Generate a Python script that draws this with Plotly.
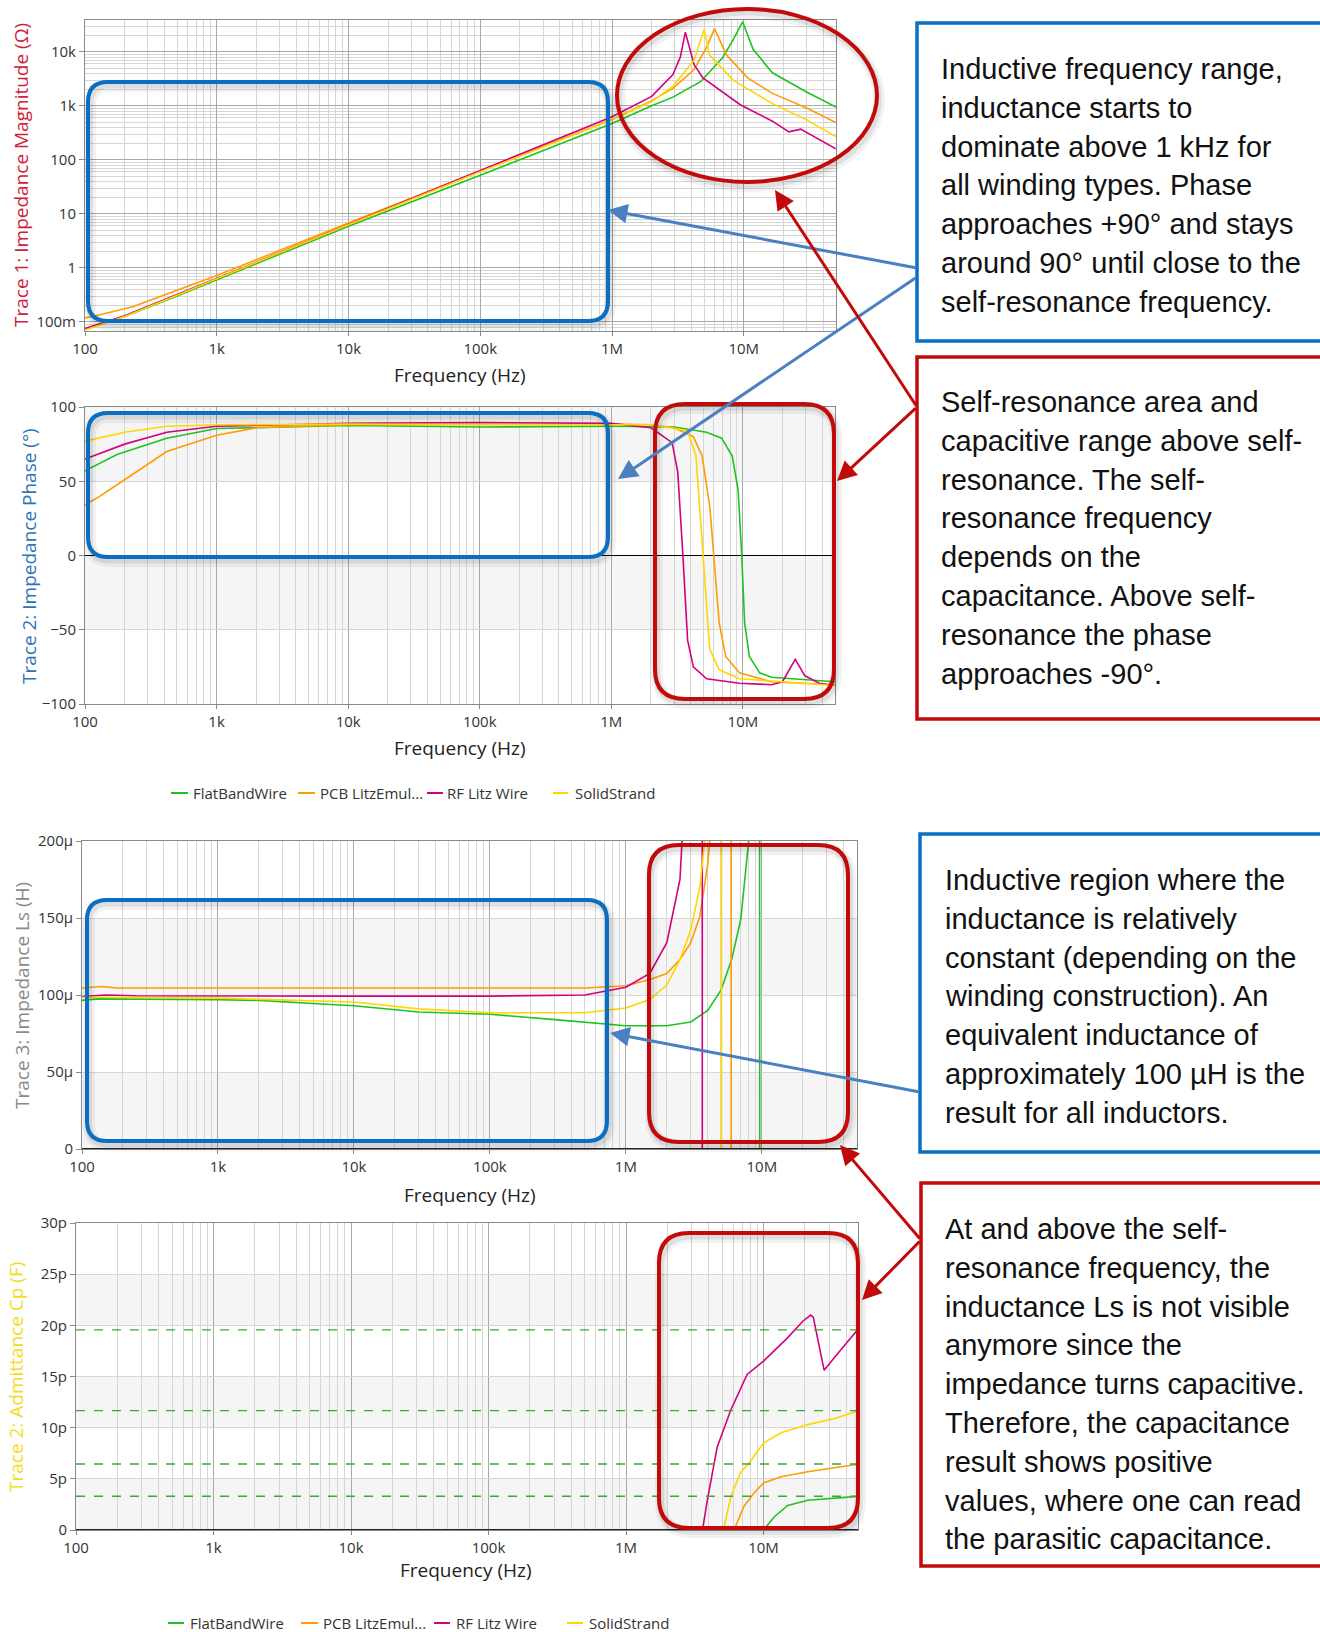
import plotly.graph_objects as go

W, H = 1320, 1632

# ---------------- series styling ----------------
NAMES = ["FlatBandWire", "PCB LitzEmul...", "RF Litz Wire", "SolidStrand"]
GREEN, ORANGE, MAGENTA, YELLOW = "#1ec41e", "#ff9c00", "#d4007f", "#ffd600"

# ---------------- Trace 1: impedance magnitude (Ohm) ----------------
MAG_F_FLAT = [100, 200, 500, 1e3, 1e4, 1e5, 1e6, 2e6, 2.9e6, 4.7e6, 6.9e6, 8.3e6, 9.8e6, 11.8e6, 16.5e6, 30e6, 50e6]
MAG_Z_FLAT = [0.075, 0.125, 0.30, 0.60, 5.9, 52, 470, 1000, 1450, 2800, 7800, 16600, 36000, 11000, 4100, 1800, 950]

MAG_F_PCB = [100, 130, 230, 420, 1e3, 1e4, 1e5, 1e6, 2e6, 2.9e6, 4.2e6, 5.2e6, 6.0e6, 7.4e6, 10.7e6, 16.5e6, 30e6, 50e6]
MAG_Z_PCB = [0.118, 0.135, 0.19, 0.33, 0.72, 6.8, 63, 560, 1250, 2100, 4700, 12000, 27000, 8700, 3300, 1700, 910, 490]

MAG_F_RF = [100, 200, 500, 1e3, 1e4, 1e5, 1e6, 2e6, 2.9e6, 3.3e6, 3.6e6, 4.2e6, 4.9e6, 9.4e6, 16.5e6, 22e6, 27e6, 50e6]
MAG_Z_RF = [0.075, 0.13, 0.32, 0.64, 6.4, 62, 630, 1500, 3800, 8000, 23000, 5800, 3300, 1050, 520, 330, 370, 160]

MAG_F_SOLID = [100, 200, 500, 1e3, 1e4, 1e5, 1e6, 2e6, 2.9e6, 4.2e6, 5.0e6, 5.5e6, 8.3e6, 16.5e6, 30e6, 50e6]
MAG_Z_SOLID = [0.07, 0.125, 0.31, 0.63, 6.3, 60, 550, 1200, 2300, 7000, 26000, 8700, 3000, 1100, 550, 270]

# ---------------- Trace 2: impedance phase (deg) ----------------
PH_F_FLAT = [100, 175, 418, 1e3, 1e4, 1e5, 1e6, 3e6, 5.3e6, 6.9e6, 8.3e6, 9.2e6, 9.8e6, 10.3e6, 11.2e6, 13.4e6, 16.5e6, 50e6]
PH_P_FLAT = [57, 68, 79, 85.5, 87.5, 86.5, 87, 86.5, 83, 79, 67, 44, 0, -45, -68, -79, -82, -85]

PH_F_PCB = [100, 130, 200, 418, 1e3, 2e3, 1e4, 1e5, 1e6, 2e6, 3e6, 4.2e6, 4.9e6, 5.6e6, 6.0e6, 6.6e6, 7.4e6, 9.4e6, 16.5e6, 50e6]
PH_P_PCB = [34, 40, 51, 70, 81, 86, 88, 88.5, 88.5, 88, 86, 80, 67, 33, 0, -45, -68, -79, -85, -87]

PH_F_RF = [100, 200, 418, 1e3, 1e4, 1e5, 1e6, 2e6, 2.9e6, 3.2e6, 3.5e6, 3.8e6, 4.2e6, 5.3e6, 9.4e6, 16.5e6, 20e6, 25e6, 29.6e6, 38e6, 50e6]
PH_P_RF = [65, 75, 83, 87, 89, 89.5, 89, 86, 76, 56, 0, -57, -75, -83, -86, -87, -85, -70, -81, -86, -87.5]

PH_F_SOLID = [100, 200, 418, 1e3, 1e4, 1e5, 1e6, 2e6, 3.8e6, 4.4e6, 4.8e6, 5.0e6, 5.3e6, 5.6e6, 6.6e6, 9.4e6, 50e6]
PH_P_SOLID = [77, 83, 87, 88, 88.5, 88, 88, 88, 84, 67, 22, 0, -34, -63, -77, -83, -87.5]

# ---------------- Trace 3: series inductance Ls (uH) ----------------
LS_F_FLAT = [100, 130, 1e3, 2e3, 5e3, 1e4, 3e4, 1e5, 3e5, 1e6, 2e6, 3e6, 4e6, 5e6, 6e6, 7e6, 8e6, 9.5e6, 9.8e6, 15e6, 50e6]
LS_L_FLAT = [96.5, 97.5, 97, 96.5, 94.5, 93, 89, 87.5, 84, 80, 80, 82.5, 90, 103, 123, 149, 200, 1500, -1500, -100, -5]

LS_F_PCB = [100, 140, 180, 1e3, 1e4, 1e5, 5e5, 1e6, 1.5e6, 2e6, 2.5e6, 3e6, 3.5e6, 4e6, 4.3e6, 5.9e6, 6.0e6, 15e6, 50e6]
LS_L_PCB = [104.5, 105.5, 104.5, 104.5, 104.5, 104.5, 104.5, 106, 110, 114, 123, 134, 151, 185, 215, 3000, -3000, -50, -5]

LS_F_RF = [100, 150, 250, 1e3, 1e4, 1e5, 5e5, 1e6, 1.5e6, 2e6, 2.5e6, 2.7e6, 3.6e6, 3.7e6, 10e6, 50e6]
LS_L_RF = [99, 100, 99.5, 99.3, 99.3, 99.3, 100, 105, 114, 134, 175, 230, 3000, -3000, -50, -5]

LS_F_SOLID = [100, 1e3, 1e4, 3e4, 1e5, 5e5, 1e6, 1.5e6, 2e6, 2.5e6, 3e6, 3.5e6, 3.8e6, 5.0e6, 5.1e6, 15e6, 50e6]
LS_L_SOLID = [98.5, 98, 95.5, 91, 88.5, 88.5, 91.5, 97, 106.5, 123, 142, 170, 200, 3000, -3000, -50, -5]

# ---------------- Trace 2 (admittance): parallel capacitance Cp (pF) ----------------
CP_F_FLAT = [9.5e6, 10e6, 12e6, 15e6, 21e6, 33e6, 47e6, 50e6]
CP_C_FLAT = [-1, 0, 1.3, 2.4, 2.9, 3.1, 3.3, 3.3]

CP_F_PCB = [5.8e6, 6.1e6, 7.2e6, 8.5e6, 10e6, 13.4e6, 21e6, 47e6, 50e6]
CP_C_PCB = [-2, 0, 2.3, 3.6, 4.6, 5.2, 5.7, 6.4, 6.45]

CP_F_RF = [3.4e6, 3.6e6, 3.9e6, 4.6e6, 5.77e6, 7.6e6, 10e6, 15e6, 19.3e6, 22e6, 23e6, 27.6e6, 33e6, 47e6, 50e6]
CP_C_RF = [-5, 0, 2.9, 8.1, 11.7, 15.2, 16.5, 18.8, 20.4, 21.0, 20.8, 15.6, 16.9, 19.4, 19.8]

CP_F_SOLID = [4.8e6, 5.1e6, 5.8e6, 6.8e6, 8.1e6, 10e6, 13.4e6, 21e6, 33e6, 47e6, 50e6]
CP_C_SOLID = [-3, 0, 3.3, 5.6, 6.8, 8.5, 9.5, 10.3, 10.9, 11.6, 11.7]

# cursor read-outs of the parasitic capacitance (pF)
CP_MARKERS = [19.55, 11.66, 6.45, 3.3]

# axis tick labels
FREQ_TICKS = [100, 1e3, 1e4, 1e5, 1e6, 1e7]
FREQ_LABELS = ["100", "1k", "10k", "100k", "1M", "10M"]
MAG_TICKS = [0.1, 1, 10, 100, 1000, 10000]
MAG_LABELS = ["100m", "1", "10", "100", "1k", "10k"]
PH_TICKS = [-100, -50, 0, 50, 100]
LS_TICKS = [0, 50, 100, 150, 200]
LS_LABELS = ["0", "50µ", "100µ", "150µ", "200µ"]
CP_TICKS = [0, 5, 10, 15, 20, 25, 30]
CP_LABELS = ["0", "5p", "10p", "15p", "20p", "25p", "30p"]


def px(x):
    return x / W


def py(y):
    return 1 - y / H


FONT = "Open Sans"
BOX_FONT = "Liberation Sans, Arial, sans-serif"
TICK_COLOR = "#333333"
MAJOR_GRID = "#a9a9a9"
MINOR_GRID = "#d6d6d6"
BAND = "#f5f5f5"

fig = go.Figure()

panels = [
    # (axis suffix, plot box in px (l, t, r, b))
    ("", (85, 20, 836, 331)),
    ("2", (85, 407, 835, 704)),
    ("3", (82, 841, 857, 1149)),
    ("4", (76, 1223, 858, 1530)),
]

series = [
    [(MAG_F_FLAT, MAG_Z_FLAT), (MAG_F_PCB, MAG_Z_PCB), (MAG_F_RF, MAG_Z_RF), (MAG_F_SOLID, MAG_Z_SOLID)],
    [(PH_F_FLAT, PH_P_FLAT), (PH_F_PCB, PH_P_PCB), (PH_F_RF, PH_P_RF), (PH_F_SOLID, PH_P_SOLID)],
    [(LS_F_FLAT, LS_L_FLAT), (LS_F_PCB, LS_L_PCB), (LS_F_RF, LS_L_RF), (LS_F_SOLID, LS_L_SOLID)],
    [(CP_F_FLAT, CP_C_FLAT), (CP_F_PCB, CP_C_PCB), (CP_F_RF, CP_C_RF), (CP_F_SOLID, CP_C_SOLID)],
]
colors = [GREEN, ORANGE, MAGENTA, YELLOW]

for (suf, _), group in zip(panels, series):
    for name, color, (f, v) in zip(NAMES, colors, group):
        fig.add_trace(go.Scatter(
            x=f, y=v, mode="lines", name=name, showlegend=False,
            line=dict(color=color, width=1.6),
            xaxis="x" + suf, yaxis="y" + suf, cliponaxis=True,
            hoverinfo="skip",
        ))

# minor grid positions (2..9 within each decade)
minor_x = [k * 10 ** n for n in range(2, 8) for k in range(2, 10)]
minor_y = [k * 10 ** n for n in range(-2, 5) for k in range(2, 10)]

x_ranges = [[2, 7.70], [2, 7.70], [2, 7.70], [2, 7.687]]
layout = {}
for i, ((suf, (l, t, r, b)), xr) in enumerate(zip(panels, x_ranges)):
    ax = dict(
        domain=[px(l), px(r)], type="log", range=xr,
        tickvals=FREQ_TICKS, ticktext=FREQ_LABELS,
        tickfont=dict(family=FONT, size=15, color=TICK_COLOR),
        showgrid=True, gridcolor=MAJOR_GRID, gridwidth=1,
        minor=dict(tickvals=minor_x, showgrid=True, gridcolor=MINOR_GRID, ticks=""),
        ticks="outside", ticklen=4, tickcolor="#888888",
        showline=True, linecolor="#8a8a8a", linewidth=1, mirror=True,
        anchor="y" + suf, zeroline=False, automargin=False,
    )
    layout["xaxis" + suf] = ax

layout["yaxis"] = dict(
    domain=[py(331), py(20)], type="log", range=[-1.17, 4.59],
    tickvals=MAG_TICKS, ticktext=MAG_LABELS,
    minor=dict(tickvals=minor_y, showgrid=True, gridcolor=MINOR_GRID, ticks=""),
)
layout["yaxis2"] = dict(
    domain=[py(704), py(407)], range=[-100, 100], tickvals=PH_TICKS,
    zeroline=True, zerolinecolor="#000000", zerolinewidth=1,
)
layout["yaxis3"] = dict(
    domain=[py(1149), py(841)], range=[0, 200], tickvals=LS_TICKS, ticktext=LS_LABELS,
)
layout["yaxis4"] = dict(
    domain=[py(1530), py(1223)], range=[0, 30], tickvals=CP_TICKS, ticktext=CP_LABELS,
)
for suf in ["", "2", "3", "4"]:
    ya = layout["yaxis" + suf]
    ya.update(
        anchor="x" + suf,
        tickfont=dict(family=FONT, size=15, color=TICK_COLOR),
        showgrid=True, gridcolor=MAJOR_GRID if suf == "" else MINOR_GRID, gridwidth=1,
        ticks="outside", ticklen=5, tickcolor="#888888",
        showline=True, linecolor="#8a8a8a", linewidth=1, mirror=True,
        automargin=False,
    )
    ya.setdefault("zeroline", False)

fig.update_layout(
    width=W, height=H, margin=dict(l=0, r=0, t=0, b=0, pad=0, autoexpand=False),
    paper_bgcolor="white", plot_bgcolor="white", showlegend=False,
    **layout,
)

shapes = []

# alternating background bands in the linear panels
def band(suf, y0, y1):
    shapes.append(dict(type="rect", xref="x%s domain" % suf, yref="y" + suf,
                       x0=0, x1=1, y0=y0, y1=y1, fillcolor=BAND, line_width=0, layer="below"))

band("2", 50, 100)
band("2", -50, 0)
band("3", 100, 150)
band("3", 0, 50)
band("4", 0, 5)
band("4", 10, 15)
band("4", 20, 25)

# dark base lines of the Ls and Cp panels
for suf in ["3", "4"]:
    shapes.append(dict(type="line", xref="x%s domain" % suf, yref="y" + suf,
                       x0=0, x1=1, y0=0, y1=0, line=dict(color="#222222", width=2), layer="above"))

# parasitic capacitance cursor lines
for c in CP_MARKERS:
    shapes.append(dict(type="line", xref="x4 domain", yref="y4", x0=0, x1=1, y0=c, y1=c,
                       line=dict(color="#3aa83a", width=1.3, dash="dash"), layer="above"))


def rrect_path(l, t, r, b, rad):
    return (f"M {px(l + rad)},{py(t)} L {px(r - rad)},{py(t)} "
            f"Q {px(r)},{py(t)} {px(r)},{py(t + rad)} L {px(r)},{py(b - rad)} "
            f"Q {px(r)},{py(b)} {px(r - rad)},{py(b)} L {px(l + rad)},{py(b)} "
            f"Q {px(l)},{py(b)} {px(l)},{py(b - rad)} L {px(l)},{py(t + rad)} "
            f"Q {px(l)},{py(t)} {px(l + rad)},{py(t)} Z")


def highlight(l, t, r, b, rad, color):
    for w, a, d in [(12, 0.05, 4), (7, 0.08, 3)]:
        shapes.append(dict(type="path", xref="paper", yref="paper",
                           path=rrect_path(l + d / 2, t + d, r + d / 2, b + d, rad),
                           line=dict(color="rgba(0,0,0,%s)" % a, width=w), layer="above"))
    shapes.append(dict(type="path", xref="paper", yref="paper", path=rrect_path(l, t, r, b, rad),
                       line=dict(color=color, width=4), layer="above"))


BLUE = "#0a6fc2"
RED = "#c20a0a"
highlight(88, 82, 608, 321, 20, BLUE)
highlight(88, 413, 608, 557, 20, BLUE)
highlight(655, 404, 834, 699, 30, RED)
highlight(87, 900, 607, 1141, 20, BLUE)
highlight(649, 845, 848, 1142, 30, RED)
highlight(659, 1233, 858, 1528, 30, RED)

# resonance ellipse
for w, a, d in [(12, 0.05, 4), (7, 0.08, 3)]:
    shapes.append(dict(type="circle", xref="paper", yref="paper",
                       x0=px(617 + d / 2), x1=px(877 + d / 2), y0=py(182 + d), y1=py(9 + d),
                       line=dict(color="rgba(0,0,0,%s)" % a, width=w), layer="above"))
shapes.append(dict(type="circle", xref="paper", yref="paper",
                   x0=px(617), x1=px(877), y0=py(182), y1=py(9),
                   line=dict(color=RED, width=4), layer="above"))

# text frames on the right
for (l, t, r, b), color in [((917, 23, 1330, 341), BLUE), ((917, 357, 1330, 719), RED),
                            ((920, 834, 1330, 1152), BLUE), ((921, 1183, 1330, 1566), RED)]:
    shapes.append(dict(type="rect", xref="paper", yref="paper", x0=px(l), x1=px(r), y0=py(b), y1=py(t),
                       line=dict(color=color, width=3.5), fillcolor="white", layer="above"))

# legend swatches
LEG_TOP = [(171, 188, 191), (298, 315, 318), (427, 443, 445), (553, 568, 573)]
LEG_BOT = [(168, 184, 188), (301, 318, 321), (434, 450, 454), (567, 583, 587)]
annotations = []
for yy, entries in [(793, LEG_TOP), (1623, LEG_BOT)]:
    for (x0, x1, xt), name, color in zip(entries, NAMES, colors):
        shapes.append(dict(type="line", xref="paper", yref="paper", x0=px(x0), x1=px(x1),
                           y0=py(yy), y1=py(yy), line=dict(color=color, width=2)))
        annotations.append(dict(x=px(xt), y=py(yy), xref="paper", yref="paper", text=name,
                                showarrow=False, xanchor="left", yanchor="middle",
                                font=dict(family=FONT, size=15, color="#333333")))

# axis titles
for text, x, y, color in [
    ("Trace 1: Impedance Magnitude (Ω)", 21, 175, "#d0203a"),
    ("Trace 2: Impedance Phase (°)", 29, 556, "#2f74b5"),
    ("Trace 3: Impedance Ls (H)", 22, 996, "#8a8a8a"),
    ("Trace 2: Admittance Cp (F)", 16, 1377, "#f7da1e"),
]:
    annotations.append(dict(x=px(x), y=py(y), xref="paper", yref="paper", text=text, textangle=-90,
                            showarrow=False, xanchor="center", yanchor="middle",
                            font=dict(family=FONT, size=19, color=color)))

for x, y in [(460, 375), (460, 748), (470, 1195), (466, 1570)]:
    annotations.append(dict(x=px(x), y=py(y), xref="paper", yref="paper", text="Frequency (Hz)",
                            showarrow=False, xanchor="center", yanchor="middle",
                            font=dict(family=FONT, size=19, color="#222222")))

# explanatory notes: (left px, centre of first line px, lines)
LINE_STEP = 38.8
NOTES = [
    (939, 69, ["Inductive frequency range,", "inductance starts to", "dominate above 1 kHz for",
               "all winding types. Phase", "approaches +90° and stays", "around 90° until close to the",
               "self-resonance frequency."]),
    (939, 402, ["Self-resonance area and", "capacitive range above self-", "resonance. The self-",
                "resonance frequency", "depends on the", "capacitance. Above self-",
                "resonance the phase", "approaches -90°."]),
    (943, 880, ["Inductive region where the", "inductance is relatively", "constant (depending on the",
                "winding construction). An", "equivalent inductance of", "approximately 100 µH is the",
                "result for all inductors."]),
    (943, 1229, ["At and above the self-", "resonance frequency, the", "inductance Ls is not visible",
                 "anymore since the", "impedance turns capacitive.", "Therefore, the capacitance",
                 "result shows positive", "values, where one can read", "the parasitic capacitance."]),
]
for x, y, lines in NOTES:
    for k, line in enumerate(lines):
        annotations.append(dict(x=px(x), y=py(y + k * LINE_STEP), xref="paper", yref="paper", text=line,
                                showarrow=False, xanchor="left", yanchor="middle", align="left",
                                font=dict(family=BOX_FONT, size=29, color="#111111")))

# pointer arrows: (tail px, head px, colour)
ARROWS = [
    ((917, 268), (608, 210), "#4a7fc1"),
    ((917, 277), (618, 479), "#4a7fc1"),
    ((917, 407), (775, 190), RED),
    ((917, 407), (837, 481), RED),
    ((920, 1092), (610, 1033), "#4a7fc1"),
    ((921, 1240), (840, 1145), RED),
    ((921, 1240), (862, 1300), RED),
]
for (tx, ty), (hx, hy), color in ARROWS:
    annotations.append(dict(x=px(hx), y=py(hy), xref="paper", yref="paper",
                            ax=tx - hx, ay=ty - hy, axref="pixel", ayref="pixel",
                            showarrow=True, arrowhead=2, arrowsize=1.3, arrowwidth=3,
                            arrowcolor=color, text=""))

fig.update_layout(shapes=shapes, annotations=annotations)
fig.write_html("out.html")
